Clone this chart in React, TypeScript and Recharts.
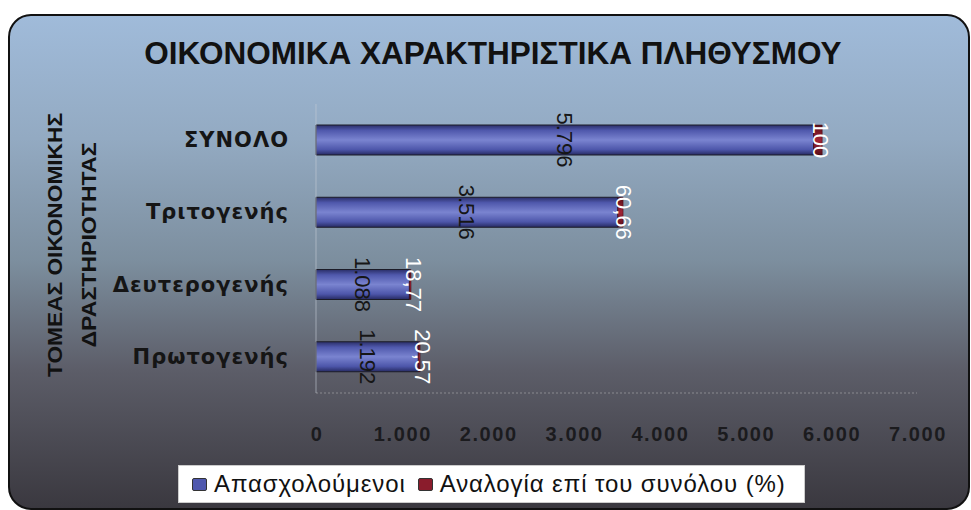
import React from 'react';
import { BarChart, Bar, XAxis, YAxis, LabelList } from 'recharts';

const categories = ['ΣΥΝΟΛΟ', 'Τριτογενής', 'Δευτερογενής', 'Πρωτογενής'];
const employed = [5796, 3516, 1088, 1192];
const share = [100, 60.66, 18.77, 20.57];
const xTicks = [0, 1000, 2000, 3000, 4000, 5000, 6000, 7000];
const seriesNames = ['Απασχολούμενοι', 'Αναλογία επί του συνόλου (%)'];
const chartTitle = 'ΟΙΚΟΝΟΜΙΚΑ ΧΑΡΑΚΤΗΡΙΣΤΙΚΑ ΠΛΗΘΥΣΜΟΥ';
const axisTitle = ['ΤΟΜΕΑΣ ΟΙΚΟΝΟΜΙΚΗΣ', 'ΔΡΑΣΤΗΡΙΟΤΗΤΑΣ'];

const data = categories.map((c, i) => ({ name: c, employed: employed[i], share: share[i] }));

const fmtThousands = (v: number) => String(v).replace(/\B(?=(\d{3})+(?!\d))/g, '.');
const fmtDecimal = (v: number) => String(v).replace('.', ',');

const BLUE = '#4f58ae';
const RED = '#8a1c2c';

const CategoryTick = (props: any) => {
  const { x, y, payload } = props;
  return (
    <text x={x - 19} y={y} textAnchor="end" dominantBaseline="central"
      fontFamily="DejaVu Sans" fontWeight="bold" fontSize={21} letterSpacing={1} fill="#151515">
      {payload.value}
    </text>
  );
};

const ValueTick = (props: any) => {
  const { x, y, payload } = props;
  return (
    <text x={x + 1} y={y + 33} textAnchor="middle" dominantBaseline="central"
      fontFamily="Liberation Sans" fontWeight="bold" fontSize={20} letterSpacing={1.6} fill="#1b1b1e">
      {fmtThousands(payload.value)}
    </text>
  );
};

const BlueLabel = (props: any) => {
  const { x, y, width, height, value } = props;
  const cx = x + width / 2;
  const cy = y + height / 2;
  return (
    <text x={cx} y={cy} transform={`rotate(90 ${cx} ${cy})`} textAnchor="middle" dominantBaseline="central"
      fontFamily="Liberation Sans" fontSize={22} fill="#161616">
      {fmtThousands(value)}
    </text>
  );
};

const RedLabel = (props: any) => {
  const { x, y, width, height, value } = props;
  const cx = x + width / 2 + 3;
  const cy = y + height / 2;
  return (
    <text x={cx} y={cy} transform={`rotate(90 ${cx} ${cy})`} textAnchor="middle" dominantBaseline="central"
      fontFamily="Liberation Sans" fontSize={22} fill="#ffffff">
      {fmtDecimal(value)}
    </text>
  );
};

const swatch = (color: string) => ({
  display: 'inline-block', flexShrink: 0, width: 13, height: 11, background: color,
  border: '1.5px solid #333', borderRadius: 2, marginRight: 7,
} as React.CSSProperties);

export default function App() {
  return (
    <div style={{ position: 'relative', width: 971, height: 510, overflow: 'hidden', background: '#fff' }}>
      <style>{`body{margin:0}`}</style>
      <svg width={0} height={0} style={{ position: 'absolute' }}>
        <defs>
          <linearGradient id="blueCyl" x1="0" y1="0" x2="0" y2="1">
            <stop offset="0%" stopColor="#2a2e68" />
            <stop offset="18%" stopColor="#4f58ac" />
            <stop offset="50%" stopColor="#7a84d0" />
            <stop offset="82%" stopColor="#4d56aa" />
            <stop offset="100%" stopColor="#262a62" />
          </linearGradient>
          <linearGradient id="redCyl" x1="0" y1="0" x2="0" y2="1">
            <stop offset="0%" stopColor="#5a0f1a" />
            <stop offset="50%" stopColor="#a02436" />
            <stop offset="100%" stopColor="#5a0f1a" />
          </linearGradient>
          <linearGradient id="bgGrad" x1="0" y1="0" x2="0" y2="1">
            <stop offset="0%" stopColor="#a0bbda" />
            <stop offset="25%" stopColor="#93aac2" />
            <stop offset="50%" stopColor="#7c8e9e" />
            <stop offset="72%" stopColor="#5c5d68" />
            <stop offset="100%" stopColor="#3a383f" />
          </linearGradient>
        </defs>
      </svg>
      <svg width={971} height={510} style={{ position: 'absolute', left: 0, top: 0 }}>
        <rect x={9} y={15} width={960} height={494} rx={22} ry={22} fill="url(#bgGrad)" stroke="#111" strokeWidth={2} />
        <text x={493} y={53} textAnchor="middle" dominantBaseline="central"
          fontFamily="Liberation Sans" fontWeight="bold" fontSize={31.5} fill="#111">
          {chartTitle}
        </text>
        <g transform="rotate(-90 72 245)">
          <text x={72} y={245} textAnchor="middle" fontFamily="Liberation Sans" fontWeight="bold" fontSize={21} fill="#111">
            <tspan x={72} dy={-10} textLength={264} lengthAdjust="spacingAndGlyphs">{axisTitle[0]}</tspan>
            <tspan x={72} dy={34} textLength={205} lengthAdjust="spacingAndGlyphs">{axisTitle[1]}</tspan>
          </text>
        </g>
      </svg>
      <div style={{ position: 'absolute', left: 0, top: 0 }}>
        <BarChart width={971} height={510} data={data} layout="vertical"
          margin={{ top: 104, right: 54, left: 0, bottom: 0 }} barSize={30}>
          <XAxis type="number" domain={[0, 7000]} ticks={xTicks} height={117} interval={0}
            tick={<ValueTick />} tickLine={false} axisLine={{ stroke: '#8a8a90', strokeDasharray: '2 2' }} />
          <YAxis type="category" dataKey="name" width={316} tick={<CategoryTick />} tickLine={false}
            axisLine={{ stroke: '#c4ccd6', strokeOpacity: 0.6 }} />
          <Bar dataKey="employed" stackId="a" fill="url(#blueCyl)" stroke="#1c1c28" strokeWidth={1} isAnimationActive={false}>
            <LabelList dataKey="employed" content={<BlueLabel />} />
          </Bar>
          <Bar dataKey="share" stackId="a" fill="url(#redCyl)" stroke="#3a0a12" strokeWidth={0.5} isAnimationActive={false}>
            <LabelList dataKey="share" content={<RedLabel />} />
          </Bar>
        </BarChart>
      </div>
      <div style={{
        position: 'absolute', left: 178, top: 465, width: 627, height: 38, background: '#fff',
        border: '1px solid #ccc', boxSizing: 'border-box', display: 'flex', alignItems: 'center',
        fontFamily: 'Liberation Sans', fontSize: 24, letterSpacing: 0.9, color: '#111', paddingLeft: 13, whiteSpace: 'nowrap'
      }}>
        <span style={swatch(BLUE)} />
        <span style={{ marginRight: 12 }}>{seriesNames[0]}</span>
        <span style={swatch(RED)} />
        <span>{seriesNames[1]}</span>
      </div>
    </div>
  );
}
